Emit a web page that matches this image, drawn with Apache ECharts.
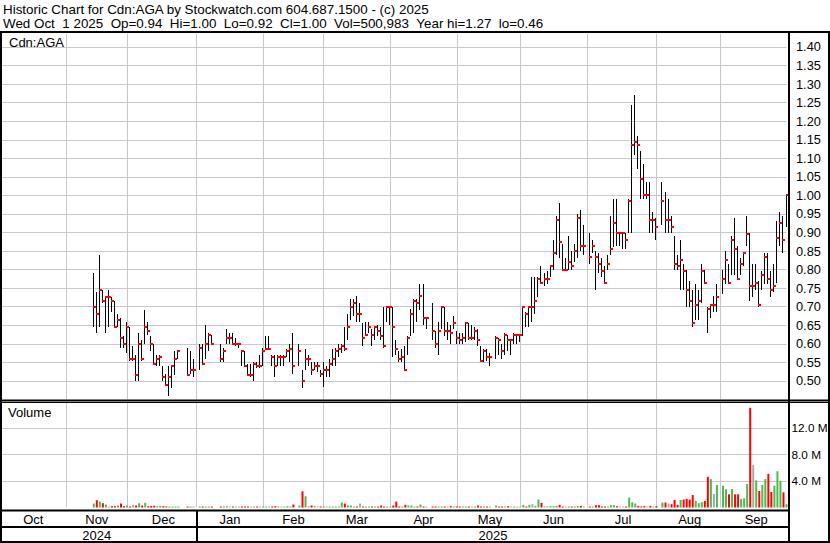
<!DOCTYPE html>
<html><head><meta charset="utf-8">
<script src="https://cdn.jsdelivr.net/npm/echarts@6/dist/echarts.min.js"></script>
<style>html,body{margin:0;padding:0;background:#fff}#c{width:830px;height:543px}</style>
</head><body><div id="c"></div>
<script>
// ---- data (one entry per weekday from startDate; null = no trade) ----
const startDate = '2024-11-14';
const high = [
0.79,0.74,0.84,0.745,0.725,0.745,0.725,0.715,0.68,0.67,
0.62,0.66,0.645,0.595,0.57,0.63,0.61,0.69,0.66,0.62,
0.60,0.57,0.57,0.54,0.52,0.54,0.54,0.58,0.58,null,
null,0.59,0.58,0.56,null,0.60,0.60,0.65,0.63,0.625,
null,null,0.60,0.59,0.64,0.63,0.63,0.615,0.60,0.58,
0.58,0.545,0.545,0.55,0.55,0.57,0.59,0.62,0.62,0.57,
0.57,0.57,0.57,0.57,0.585,0.60,0.63,null,0.60,0.53,
0.585,0.57,0.55,0.55,0.55,0.53,0.55,0.54,0.56,0.585,
0.59,0.60,0.60,0.645,0.68,0.72,0.72,0.73,0.71,0.655,
0.66,0.66,0.64,0.645,0.65,0.645,0.70,0.70,0.70,0.70,
0.61,0.58,0.585,0.595,0.62,0.695,0.72,0.72,0.76,0.76,
0.67,null,0.71,0.635,0.66,0.70,0.70,0.66,0.65,0.675,
0.635,0.63,0.63,0.66,0.655,0.65,0.645,0.64,0.595,0.585,
0.585,0.575,null,0.62,0.615,0.60,0.63,0.625,0.61,0.63,
0.625,0.625,0.70,0.685,0.70,0.78,0.78,0.78,0.81,0.79,
0.795,0.81,0.88,0.945,0.98,0.87,0.83,0.89,0.85,0.87,
0.95,0.96,0.92,null,0.90,0.88,0.85,0.845,0.83,0.81,
0.84,0.945,0.99,0.99,0.90,0.90,0.90,0.99,1.245,1.27,
1.16,1.12,1.085,1.035,1.035,0.955,0.94,null,1.035,1.01,
0.99,0.945,0.89,0.84,0.88,0.815,0.80,0.77,0.745,0.76,
0.745,0.815,0.80,0.70,0.705,0.73,0.76,null,0.80,0.85,
0.815,0.89,0.94,0.865,0.83,0.845,0.945,0.90,0.815,0.815,
0.77,0.795,0.845,0.845,0.795,0.815,0.93,0.955,0.945,1.00];
const low = [
0.645,0.63,0.645,0.71,0.63,0.645,0.685,0.645,0.645,0.59,
0.59,0.575,0.555,0.555,0.50,0.50,0.555,0.60,0.625,0.58,
0.545,0.54,0.54,0.50,0.49,0.46,0.48,0.515,0.56,null,
null,0.515,0.52,0.51,null,0.53,0.545,0.56,0.58,0.60,
null,null,0.55,0.55,0.60,0.60,0.60,0.595,0.59,0.54,
0.54,0.515,0.51,0.50,0.535,0.535,0.54,0.585,0.585,0.54,
0.51,0.54,0.54,0.54,0.565,0.55,0.52,null,0.54,0.48,
0.53,0.54,0.515,0.53,0.525,0.51,0.485,0.51,0.51,0.54,
0.54,0.565,0.575,0.58,0.61,0.665,0.675,0.66,0.66,0.595,
0.62,0.63,0.595,0.61,0.62,0.61,0.59,0.66,0.65,0.565,
0.57,0.55,0.55,0.53,0.57,0.62,0.63,0.66,0.69,0.65,
0.64,null,0.61,0.59,0.57,0.64,0.62,0.61,0.60,0.64,
0.60,0.60,0.60,0.605,0.61,0.61,0.61,0.595,0.55,0.55,
0.555,0.54,null,0.56,0.57,0.56,0.57,0.58,0.57,0.60,
0.60,0.605,0.62,0.645,0.645,0.66,0.68,0.725,0.765,0.755,
0.76,0.78,0.80,0.84,0.83,0.80,0.80,0.80,0.80,0.82,
0.83,0.85,0.84,null,0.815,0.845,0.745,0.79,0.78,0.765,
0.80,0.84,0.86,0.865,0.865,0.855,0.855,0.90,0.90,1.11,
1.07,0.99,0.99,0.99,0.90,0.90,0.88,null,0.92,0.90,
0.90,0.90,0.80,0.80,0.745,0.745,0.70,0.70,0.645,0.665,
0.665,0.71,0.765,0.63,0.67,0.685,0.685,null,0.735,0.76,
0.76,0.785,0.785,0.775,0.785,0.81,0.865,0.715,0.725,0.745,
0.70,0.745,0.76,0.76,0.725,0.74,0.765,0.865,0.845,0.915];
const close = [
0.70,0.68,0.745,0.715,0.725,0.725,0.715,0.645,0.665,0.615,
0.60,0.645,0.56,0.56,0.515,0.60,0.56,0.645,0.635,0.60,
0.545,0.56,0.565,0.51,0.49,0.51,0.54,0.56,0.58,null,
null,0.515,0.53,0.53,null,0.59,0.545,0.60,0.625,0.60,
null,null,0.56,0.58,0.615,0.615,0.60,0.60,0.60,0.58,
0.54,0.515,0.515,0.545,0.54,0.54,0.58,0.585,0.585,0.565,
0.54,0.565,0.565,0.565,0.58,0.585,0.54,null,0.58,0.50,
0.56,0.56,0.53,0.54,0.54,0.52,0.53,0.53,0.545,0.56,
0.58,0.585,0.595,0.585,0.645,0.70,0.71,0.68,0.68,0.615,
0.625,0.645,0.625,0.645,0.635,0.62,0.595,0.70,0.70,0.645,
0.585,0.56,0.565,0.53,0.615,0.68,0.715,0.71,0.73,0.67,
0.67,null,0.635,0.60,0.635,0.70,0.635,0.635,0.63,0.655,
0.615,0.61,0.615,0.655,0.615,0.615,0.635,0.61,0.555,0.58,
0.565,0.565,null,0.615,0.61,0.58,0.625,0.61,0.61,0.625,
0.625,0.625,0.70,0.68,0.70,0.70,0.715,0.775,0.765,0.775,
0.775,0.81,0.845,0.935,0.875,0.80,0.80,0.82,0.81,0.85,
0.94,0.865,0.865,null,0.835,0.865,0.835,0.815,0.795,0.765,
0.815,0.855,0.925,0.90,0.90,0.90,0.88,0.985,1.135,1.145,
1.135,1.045,1.00,1.00,0.935,0.935,0.915,null,0.985,0.935,
0.935,0.915,0.815,0.81,0.825,0.795,0.745,0.715,0.655,0.705,
0.715,0.795,0.765,0.695,0.705,0.705,0.725,null,0.775,0.825,
0.765,0.88,0.855,0.775,0.815,0.845,0.895,0.755,0.755,0.765,
0.705,0.785,0.835,0.775,0.745,0.755,0.885,0.925,0.88,1.00];
const volumeM = [
0.6,1.1,0.9,0.65,0.45,0.15,0.2,0.2,0.3,0.6,
0.2,0.3,0.15,0.4,0.3,0.65,0.3,0.7,0.2,0.25,
0.25,0.2,0.25,0.2,0.15,0.15,0.1,0.1,0.05,null,
null,0.1,0.1,0.05,null,0.1,0.05,0.1,0.05,0.1,
null,null,0.1,0.15,0.2,0.05,0.1,0.05,0.05,0.1,
0.1,0.1,0.1,0.1,0.1,0.1,0.1,0.15,0.1,0.1,
0.2,0.1,0.05,0.1,0.2,0.1,0.45,null,0.3,2.45,
1.7,0.2,0.3,0.2,0.1,0.1,0.15,0.1,0.05,0.1,
0.15,0.1,0.75,0.6,0.3,0.3,0.1,0.1,0.6,0.05,
0.05,0.05,0.05,0.05,0.05,0.3,0.1,0.05,0.05,0.3,
0.9,0.05,0.05,0.4,0.3,0.3,0.05,0.1,0.45,0.1,
0.1,null,0.1,0.1,0.05,0.1,0.1,0.1,0.2,0.1,
0.1,0.1,0.05,0.1,0.05,0.05,0.1,0.3,0.05,0.05,
0.1,0.1,null,0.3,0.05,0.1,0.1,0.2,0.1,0.05,
0.05,0.05,0.4,0.1,0.4,0.5,0.25,1.2,0.7,0.1,
0.2,0.2,0.2,0.25,0.4,0.1,0.1,0.1,0.05,0.15,
0.25,0.25,0.1,null,0.05,0.1,0.35,0.35,0.1,0.1,
0.1,0.35,0.35,0.2,0.05,0.05,0.1,1.5,0.8,0.6,
0.25,0.1,0.2,0.1,0.25,0.1,0.2,null,0.75,0.75,
0.6,0.5,1.15,0.4,1.15,1.2,1.3,1.2,1.9,1.0,
0.65,0.8,1.0,4.65,4.3,2.05,3.4,null,3.3,2.75,
2.0,2.8,2.0,2.0,1.3,1.4,3.55,15.1,6.4,4.1,
2.5,3.4,4.3,5.1,2.35,3.3,5.5,4.05,2.3,0.5];
const monthNames = ['Jan','Feb','Mar','Apr','May','Jun','Jul','Aug','Sep','Oct','Nov','Dec'];
const headerLine1 = 'Historic Chart for Cdn:AGA by Stockwatch.com 604.687.1500 - (c) 2025';
const headerLine2 = 'Wed Oct \u00a01 2025 \u00a0Op=0.94 \u00a0Hi=1.00 \u00a0Lo=0.92 \u00a0Cl=1.00 \u00a0Vol=500,983 \u00a0Year hi=1.27 \u00a0lo=0.46';

// ---- categories: weekdays ----
const dates = [];
for (let t = Date.UTC(2024,9,2); t <= Date.UTC(2025,9,1); t += 864e5) {
  const d = new Date(t), w = d.getUTCDay();
  if (w !== 0 && w !== 6) dates.push(d.toISOString().slice(0,10));
}
const N = dates.length;
const off = dates.indexOf(startDate);

// month grid positions
const gridIdx = [];
for (let i = 0; i < N - 1; i++) {
  const d = dates[i], n = dates[i+1];
  if (d.slice(8) === '01' || (n.slice(5,7) !== d.slice(5,7) && n.slice(8) !== '01')) gridIdx.push(i);
}
const gridSet = new Set(gridIdx);
const bounds = [-1].concat(gridIdx, [N]);
const monthLabel = {};
for (let k = 0; k < bounds.length - 1; k++) {
  const mid = Math.round((bounds[k] + bounds[k+1]) / 2);
  monthLabel[mid] = monthNames[+dates[Math.max(0, bounds[k]+1)].slice(5,7) - 1];
}
const yearStart = dates.indexOf('2025-01-01');
const yearLabel = {};
yearLabel[Math.round((-1 + yearStart) / 2)] = '2024';
yearLabel[Math.round((yearStart + N) / 2)] = '2025';

// series data
const ohlc = [];
const vol = new Array(N).fill(null);
let prev = null;
for (let j = 0; j < close.length; j++) {
  const i = off + j;
  if (close[j] == null) continue;
  ohlc.push([i, high[j], low[j], close[j]]);
  let col = '#4fb84f';
  if (prev != null) col = close[j] > prev + 1e-9 ? '#4fb84f' : (close[j] < prev - 1e-9 ? '#ff0000' : '#a9a9a9');
  vol[i] = {value: volumeM[j], itemStyle: {color: col}};
  prev = close[j];
}

const FONT = '"Liberation Sans", Arial, sans-serif';
const chart = echarts.init(document.getElementById('c'), null, {renderer: 'svg'});
const gridLine = {show: true, lineStyle: {color: '#c8c8c8', width: 1}};
const catAxis = (gi, extra) => Object.assign({
  type: 'category', gridIndex: gi, data: dates, boundaryGap: false,
  axisLine: {show: false}, axisTick: {show: false}, axisLabel: {show: false},
  splitLine: {show: true, interval: (i) => gridSet.has(i), lineStyle: {color: '#c8c8c8', width: 1}}
}, extra || {});

const rect = (x, y, w, h) => ({type: 'rect', shape: {x, y, width: w, height: h}, style: {fill: '#000'}, z: 100});
const G = (top, height) => ({left: 0, top, width: 786.5, height, containLabel: false, outerBoundsMode: 'none'});

chart.setOption({
  animation: false,
  backgroundColor: '#fff',
  grid: [G(34, 365.5), G(403, 104.5), G(511, 15), G(528, 13)],
  xAxis: [
    catAxis(0),
    catAxis(1),
    catAxis(2, {position: 'top',
      splitLine: {show: true, interval: (i) => i === yearStart, lineStyle: {color: '#000', width: 2}},
      axisLabel: {show: true, inside: true, margin: 2, interval: (i) => monthLabel[i] !== undefined,
        formatter: (v, i) => monthLabel[i] || '', color: '#000', fontSize: 13, fontFamily: FONT}}),
    catAxis(3, {position: 'top',
      splitLine: {show: true, interval: (i) => i === yearStart, lineStyle: {color: '#000', width: 2}},
      axisLabel: {show: true, inside: true, margin: 1, interval: (i) => yearLabel[i] !== undefined,
        formatter: (v, i) => yearLabel[i] || '', color: '#000', fontSize: 13, fontFamily: FONT}})
  ],
  yAxis: [
    {type: 'value', gridIndex: 0, position: 'right', min: 0.45, max: 1.435, interval: 0.05,
     axisLine: {show: false}, axisTick: {show: false},
     splitLine: Object.assign({showMinLine: false, showMaxLine: false}, gridLine),
     axisLabel: {margin: 9.5, color: '#000', fontSize: 12.8, fontFamily: FONT, showMaxLabel: false, showMinLabel: false,
       formatter: (v) => (v > 0.49 && v < 1.41) ? v.toFixed(2) : ''}},
    {type: 'value', gridIndex: 1, position: 'right', min: 0, max: 15.83, interval: 4,
     axisLine: {show: false}, axisTick: {show: false},
     splitLine: Object.assign({showMinLine: false, showMaxLine: false}, gridLine),
     axisLabel: {margin: 5, color: '#000', fontSize: 11.8, fontFamily: FONT, showMaxLabel: false, showMinLabel: false,
       overflow: 'none', hideOverlap: false,
       formatter: (v) => (v > 0 && v < 15) ? v.toFixed(1) + ' M' : ''}},
    {type: 'value', gridIndex: 2, show: false},
    {type: 'value', gridIndex: 3, show: false}
  ],
  series: [
    {type: 'custom', xAxisIndex: 0, yAxisIndex: 0, data: ohlc, encode: {x: 0, y: [1, 2, 3]},
     renderItem: function (params, api) {
       const i = api.value(0);
       const pH = api.coord([i, api.value(1)]);
       const pL = api.coord([i, api.value(2)]);
       const pC = api.coord([i, api.value(3)]);
       const x = Math.round(pH[0]);
       return {type: 'group', children: [
         {type: 'rect', shape: {x: x - 1, y: Math.round(pH[1]), width: 1, height: Math.max(1, Math.round(pL[1]) - Math.round(pH[1]))}, style: {fill: '#000'}},
         {type: 'rect', shape: {x: x - 1, y: Math.round(pC[1]) - 1, width: 3, height: 2}, style: {fill: '#ff0000'}}
       ]};
     }},
    {type: 'bar', xAxisIndex: 1, yAxisIndex: 1, data: vol, barWidth: 2, barMinHeight: 1}
  ],
  graphic: [
    {type: 'text', left: 3, top: 3, style: {text: headerLine1, font: '13.4px ' + FONT, fill: '#000'}},
    {type: 'text', left: 3, top: 17, style: {text: headerLine2, font: '13.4px ' + FONT, fill: '#000'}},
    {type: 'text', left: 9, top: 36, style: {text: 'Cdn:AGA', font: '13px ' + FONT, fill: '#000'}},
    {type: 'text', left: 8, top: 406, style: {text: 'Volume', font: '13px ' + FONT, fill: '#000'}},
    rect(0, 31, 830, 2),
    rect(0, 31, 2, 512),
    rect(828, 31, 2, 512),
    rect(788, 31, 2, 512),
    rect(0, 399.5, 830, 2),
    rect(0, 402, 830, 1),
    rect(0, 509.5, 790, 2),
    rect(0, 526, 790, 2),
    rect(0, 541, 830, 2)
  ]
});
</script>
</body></html>
